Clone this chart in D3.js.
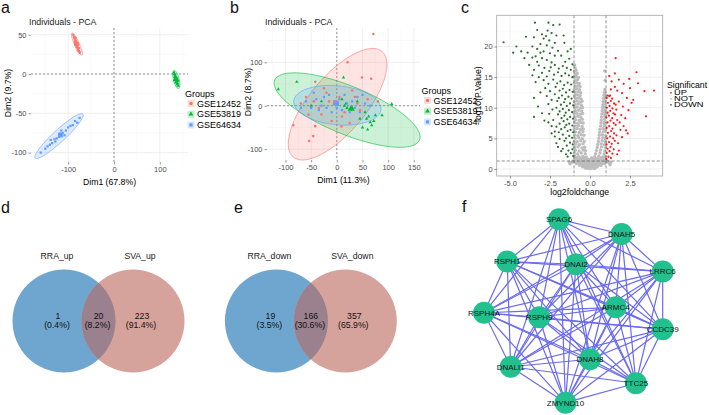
<!DOCTYPE html>
<html>
<head>
<meta charset="UTF-8" />
<script src="https://d3js.org/d3.v7.min.js"></script>
<title>Figure</title>
<style>
  body { margin: 0; background: #fff; }
  text { font-family: "Liberation Sans", Arial, sans-serif; }
</style>
</head>
<body>
<svg id="fig" width="709" height="415"></svg>
<script>
// ---------- data ----------
var groups = ["GSE12452", "GSE53819", "GSE64634"];

// panel a: PCA (Dim1 67.8%, Dim2 9.7%)
var pcaA_12452 = [[-89,50],[-87,47],[-86,45],[-84,43],[-85,41],[-82,40],[-83,37],[-80,36],[-81,34],[-78,32],[-79,30],[-76,29],[-75,27],[-84,46],[-80,38],[-77,33]];
var pcaA_53819 = [[131,2],[132,0],[133,-2],[134,-3],[135,-5],[136,-6],[134,-7],[137,-8],[138,-9],[136,-10],[139,-12],[138,-13],[140,-15],[133,-4],[137,-5],[135,-11]];
var pcaA_64634 = [[-160,-100],[-150,-95],[-145,-92],[-140,-90],[-135,-88],[-130,-83],[-125,-82],[-120,-80],[-118,-76],[-112,-75],[-108,-78],[-105,-72],[-100,-68],[-95,-66],[-90,-65],[-85,-60],[-80,-62],[-75,-56],[-128,-86],[-138,-84],[-115,-72]];
// ellipses: centre x, centre y, axis-1 vector, axis-2 vector (data units)
var pcaA_ellipses = [[-81,38,11,-14,-5,-1.3],[136,-7,5,-11.5,-6,-1],[-120,-79,52,28,8.9,-5.6]];

// panel b: PCA (Dim1 11.3%, Dim2 8.7%)
var pcaB_12452 = [[71,165],[21,100],[49,65],[67,62],[-42,55],[-85,-45],[-42,-47],[-46,-70],[-54,-81],[10,-25],[9,-48],[-20,30],[-60,20],[30,35],[45,-10],[-30,-20],[60,15],[-70,5],[-10,-35],[25,-40],[-45,10],[35,20],[-25,40],[5,20],[-55,-20],[80,10],[15,-15],[-35,-5],[40,5],[-15,10]];
var pcaB_53819 = [[-114,38],[-78,55],[13,65],[88,-22],[107,4],[55,-15],[58,-30],[62,-25],[68,-45],[72,-35],[50,-50],[60,-55],[75,-22],[65,-38],[45,-30],[15,0],[18,5],[20,-5],[10,15],[-5,5],[-30,10],[30,-5],[40,10],[-50,0]];
var pcaB_64634 = [[-60,10],[-50,-5],[-40,15],[-35,-10],[-25,20],[-20,-5],[-15,25],[-10,-15],[-5,10],[0,-5],[5,15],[10,-10],[15,25],[20,5],[25,-15],[30,10],[35,-5],[40,20],[45,-15],[55,5],[-70,-5],[-30,0],[50,25],[-45,30],[65,0]];
var pcaB_ellipses = [[1.5,3.5,86.5,121.5,41.7,-41.8],[20,-10,141,-69,-18,-51],[1,1,85,-8,0,45]];

// panel c: volcano, [log2FC, -log10 P]
var volcanoNot = [
  [-0.25,0.1],[-0.1,0.12],[0.05,0.08],[0.2,0.13],[0.3,0.1],
  [-0.45,0.35],[-0.3,0.38],[-0.15,0.32],[0,0.36],[0.15,0.33],[0.3,0.37],[0.45,0.34],
  [-0.65,0.6],[-0.5,0.63],[-0.35,0.58],[-0.2,0.62],[-0.05,0.6],[0.1,0.64],[0.25,0.59],[0.4,0.61],[0.55,0.63],[0.68,0.58],
  [-0.85,0.9],[-0.7,0.93],[-0.55,0.88],[-0.4,0.92],[-0.25,0.9],[-0.1,0.87],[0.05,0.92],[0.2,0.89],[0.35,0.93],[0.5,0.9],[0.65,0.88],[0.8,0.92],[0.92,0.9],
  [-1.1,1.2],[-0.95,1.18],[-0.8,1.22],[-0.65,1.2],[-0.5,1.17],[-0.35,1.23],[-0.2,1.2],[-0.05,1.18],[0.1,1.22],[0.25,1.19],[0.4,1.21],[0.55,1.18],[0.7,1.23],[0.85,1.2],[1.0,1.18],[1.12,1.22],
  [-1.25,0.85],[-1.15,1.05],[1.2,0.95],[1.3,1.1],[-1.3,1.15],[1.25,0.7],
  [-0.98,1.5],[-0.83,1.53],[-0.68,1.48],[-0.53,1.52],[-0.38,1.5],[-0.22,1.47],[-0.08,1.52],[0.08,1.5],[0.22,1.53],[0.38,1.48],[0.53,1.51],[0.68,1.5],[0.83,1.52],[0.98,1.49],
  [-0.95,1.8],[-0.78,1.83],[-0.6,1.78],[-0.42,1.82],[-0.2,1.8],[0.1,1.79],[0.3,1.82],[0.5,1.8],[0.7,1.83],[0.9,1.78],
  [-0.95,2.1],[-0.7,2.0],[-0.45,2.05],[-0.25,1.95],[-0.98,2.55],[-0.78,2.45],[-0.55,2.6],[-0.3,2.5],
  [-0.92,3.05],[-0.68,2.95],[-0.42,3.1],[-0.28,3.0],[-0.97,3.5],[-0.75,3.6],[-0.5,3.45],[-0.33,3.55],
  [-0.9,4.05],[-0.66,3.95],[-0.44,4.1],[-0.99,4.5],[-0.8,4.45],[-0.58,4.6],[-0.36,4.5],
  [-0.93,5.0],[-0.7,5.1],[-0.48,4.95],[-0.96,5.55],[-0.76,5.45],[-0.55,5.6],[-0.38,5.5],
  [-0.91,6.05],[-0.68,5.95],[-0.45,6.1],[-0.98,6.5],[-0.8,6.6],[-0.6,6.45],[-0.42,6.55],
  [-0.92,7.0],[-0.72,7.1],[-0.5,6.95],[-0.97,7.55],[-0.78,7.45],[-0.58,7.6],[-0.43,7.5],
  [-0.9,8.05],[-0.68,7.95],[-0.48,8.1],[-0.95,8.5],[-0.76,8.6],[-0.57,8.45],
  [-0.99,9.0],[-0.82,9.1],[-0.62,8.95],[-0.46,9.05],[-0.92,9.5],[-0.72,9.6],[-0.52,9.45],
  [-0.97,10.0],[-0.8,10.1],[-0.6,9.95],[-0.47,10.05],[-0.93,10.5],[-0.74,10.6],[-0.55,10.45],
  [-0.98,11.0],[-0.82,11.1],[-0.64,10.95],[-0.5,11.05],[-0.9,11.5],[-0.72,11.6],[-0.56,11.45],
  [-0.96,12.0],[-0.8,12.1],[-0.62,11.95],[-0.92,12.5],[-0.74,12.6],[-0.58,12.45],
  [-0.98,13.0],[-0.84,13.1],[-0.66,12.95],[-0.91,13.5],[-0.75,13.6],[-0.62,13.45],
  [-0.97,14.0],[-0.83,14.1],[-0.68,13.95],[-0.93,14.5],[-0.78,14.6],
  [-0.98,15.0],[-0.86,15.1],[-0.72,14.95],[-0.94,15.5],[-0.8,15.6],[-0.97,16.0],[-0.87,16.1],[-0.93,16.5],[-0.96,17.0],
  [0.3,2.0],[0.55,2.1],[0.8,1.95],[0.97,2.05],[0.35,2.5],[0.62,2.6],[0.88,2.45],
  [0.4,3.0],[0.65,3.1],[0.92,2.95],[0.45,3.5],[0.72,3.6],[0.98,3.45],
  [0.48,4.0],[0.7,4.1],[0.9,3.95],[0.52,4.5],[0.76,4.6],[0.96,4.45],
  [0.55,5.0],[0.8,5.1],[0.95,4.95],[0.58,5.5],[0.78,5.6],[0.99,5.45],
  [0.6,6.0],[0.84,6.1],[0.62,6.5],[0.82,6.6],[0.97,6.45],
  [0.66,7.0],[0.88,7.1],[0.68,7.5],[0.86,7.6],[0.99,7.45],
  [0.7,8.0],[0.9,8.1],[0.72,8.5],[0.93,8.6],
  [0.74,9.0],[0.88,9.1],[0.99,8.95],[0.76,9.5],[0.94,9.6],
  [0.78,10.0],[0.92,10.1],[0.8,10.5],[0.96,10.6],
  [0.82,11.0],[0.94,11.1],[0.85,11.5],[0.98,11.6],
  [0.87,12.0],[0.96,12.1],[0.9,12.5],[0.93,13.0],[0.95,14.5],[0.92,16.0]
];
var volcanoDown = [
  [-1.05,2.1],[-1.2,2.6],[-1.1,3.2],[-1.35,3.0],[-1.5,2.4],[-1.08,4.0],[-1.25,4.3],[-1.45,3.8],[-1.6,4.6],[-1.12,5.1],
  [-1.3,5.4],[-1.5,5.0],[-1.7,5.6],[-1.05,6.0],[-1.22,6.4],[-1.4,6.2],[-1.58,6.8],[-1.8,6.5],[-1.1,7.1],[-1.3,7.4],
  [-1.48,7.2],[-1.65,7.8],[-1.9,7.4],[-1.06,8.2],[-1.24,8.5],[-1.42,8.1],[-1.6,8.7],[-1.78,8.3],[-2.0,8.9],[-1.12,9.3],
  [-1.32,9.6],[-1.52,9.2],[-1.7,9.8],[-1.9,9.4],[-2.1,10.0],[-1.05,10.4],[-1.25,10.7],[-1.45,10.3],[-1.62,10.9],[-1.82,10.5],
  [-2.05,11.1],[-1.15,11.5],[-1.35,11.8],[-1.55,11.4],[-1.75,12.0],[-1.95,11.6],[-2.2,12.2],[-1.08,12.6],[-1.28,12.9],[-1.5,12.5],
  [-1.7,13.1],[-1.9,12.8],[-2.15,13.4],[-1.18,13.8],[-1.4,14.1],[-1.62,13.7],[-1.85,14.3],[-2.05,14.0],[-2.3,14.6],[-1.1,15.0],
  [-1.32,15.3],[-1.55,15.6],[-1.78,15.2],[-2.0,15.8],[-2.25,15.4],[-1.2,16.2],[-1.45,16.5],[-1.7,16.8],[-1.95,16.4],[-2.2,17.0],
  [-2.45,16.6],[-1.1,17.1],
  [-2.2,6.1],[-2.4,7.0],[-2.3,8.0],[-2.55,9.0],[-2.35,9.7],[-2.6,10.6],[-2.4,11.3],[-2.7,11.9],[-2.5,12.7],[-2.8,13.2],
  [-2.6,13.9],[-2.9,14.5],[-2.7,15.1],[-3.0,15.7],[-2.55,16.0],[-2.85,16.5],[-3.2,16.9],[-2.4,17.4],[-2.7,17.8],[-3.0,18.1],
  [-3.4,18.4],[-2.2,18.5],[-2.5,18.9],[-2.9,19.2],[-3.3,19.6],[-2.0,19.3],[-2.35,19.8],[-2.7,20.2],[-3.1,20.4],[-3.6,20.0],
  [-2.2,20.6],[-2.55,21.0],[-2.9,21.3],[-3.5,21.5],[-2.4,22.2],[-3.0,22.0],[-4.0,21.6],[-2.3,23.5],[-1.9,23.6],[-2.6,23.9],
  [-3.44,23.9],[-2.75,21.7],
  [-1.8,2.9],[-2.0,3.6],[-1.9,4.9],[-2.2,5.3],[-2.1,4.2],[-1.4,2.0],[-1.7,3.3],[-2.4,5.8],[-2.6,7.6],[-2.1,6.9],[-1.95,6.0],
  [-3.3,17.5],[-3.6,18.2],[-3.9,19.0],[-4.3,19.2],[-4.6,20.0],[-4.8,19.0],[-5.4,20.7],[-3.8,17.0],[-3.5,16.2],[-3.2,15.0],
  [-3.4,14.2],[-3.5,11.6],[-3.5,8.5],[-3.1,12.5],[-3.25,10.2],[-3.0,9.1],[-2.85,7.9],[-3.6,15.3],[-4.1,18.1],[-3.1,19.0],
  [-3.3,22.7],[-2.1,21.8],[-1.6,20.6],[-1.4,19.2],[-1.8,18.5],[-1.3,18.0],[-1.55,17.5],[-2.65,22.6],[-1.2,19.6],[-1.65,21.8]
];
var volcanoUp = [
  [1.02,1.6],[1.15,2.0],[1.3,1.8],[1.05,2.6],[1.22,2.9],[1.4,2.5],[1.1,3.3],[1.28,3.6],[1.48,3.2],[1.03,4.0],
  [1.18,4.4],[1.36,4.1],[1.55,4.6],[1.08,5.0],[1.25,5.3],[1.45,5.0],[1.65,5.5],[1.12,5.9],[1.32,6.2],[1.5,5.8],
  [1.04,6.7],[1.2,7.0],[1.4,6.6],[1.6,7.2],[1.1,7.6],[1.28,7.9],[1.48,7.5],[1.7,8.0],[1.02,8.4],[1.18,8.7],
  [1.38,8.3],[1.56,8.9],[1.1,9.2],[1.26,9.5],[1.46,9.1],[1.64,9.7],[1.05,10.0],[1.22,10.3],[1.4,9.9],[1.6,10.5],
  [1.12,10.8],[1.3,11.1],[1.5,10.7],[1.04,11.6],[1.2,11.9],[1.38,11.5],[1.1,12.0],[1.25,12.0],
  [1.8,3.0],[1.75,4.2],[2.0,5.2],[1.9,6.4],[2.1,7.0],[1.85,7.6],[2.2,8.3],[1.95,8.8],[2.4,9.6],[2.05,10.2],
  [1.8,11.0],[2.3,11.6],[2.0,12.4],[1.7,12.8],[2.5,13.2],[1.55,13.4],[2.1,13.9],[1.35,14.3],[1.8,14.6],[1.2,15.2],
  [1.55,15.6],[1.3,13.0],[2.6,10.8],[2.25,6.3],[1.7,2.4],[2.35,5.8],
  [1.6,18.1],[2.9,15.8],[3.0,14.0],[3.4,12.7],[4.0,12.8],[3.5,8.6],[2.7,11.3],[2.45,14.7]
];
var volcanoLevels = ["UP", "NOT", "DOWN"];

// panels d, e: Venn diagrams
var vennUpSets = ["RRA_up", "SVA_up"];
var vennUpCounts = [1, 20, 223];
var vennUpPct = ["0.4%", "8.2%", "91.4%"];
var vennDownSets = ["RRA_down", "SVA_down"];
var vennDownCounts = [19, 166, 357];
var vennDownPct = ["3.5%", "30.6%", "65.9%"];

// panel f: PPI network (layout coordinates 0..1)
var geneNames = ["SPAG6","DNAH5","RSPH1","DNAI2","LRRC6","ARMC4","RSPH4A","RSPH9","CCDC39","DNAH8","DNALI1","TTC25","ZMYND10"];
var geneLayoutX = [0.42, 0.77, 0.13, 0.515, 1.0, 0.737, 0.0, 0.309, 1.0, 0.593, 0.149, 0.85, 0.456];
var geneLayoutY = [0.0, 0.08, 0.23, 0.245, 0.285, 0.48, 0.51, 0.534, 0.6, 0.763, 0.804, 0.894, 1.0];
var geneLinks = [
  ["SPAG6", ["DNAH5","RSPH1","DNAI2","LRRC6","ARMC4","RSPH4A","RSPH9","CCDC39","DNAH8","DNALI1","TTC25","ZMYND10"]],
  ["DNAH5", ["RSPH1","DNAI2","LRRC6","ARMC4","RSPH4A","RSPH9","CCDC39","DNAH8","DNALI1","TTC25","ZMYND10"]],
  ["RSPH1", ["DNAI2","LRRC6","ARMC4","RSPH4A","RSPH9","CCDC39","DNAH8","DNALI1","TTC25","ZMYND10"]],
  ["DNAI2", ["LRRC6","ARMC4","RSPH4A","RSPH9","CCDC39","DNAH8","DNALI1","TTC25","ZMYND10"]],
  ["LRRC6", ["ARMC4","RSPH4A","RSPH9","CCDC39","DNAH8","DNALI1","TTC25","ZMYND10"]],
  ["ARMC4", ["RSPH4A","RSPH9","CCDC39","DNAH8","DNALI1","TTC25","ZMYND10"]],
  ["RSPH4A", ["RSPH9","CCDC39","DNAH8","DNALI1","TTC25","ZMYND10"]],
  ["RSPH9", ["CCDC39","DNAH8","DNALI1","TTC25","ZMYND10"]],
  ["CCDC39", ["DNAH8","DNALI1","TTC25","ZMYND10"]],
  ["DNAH8", ["DNALI1","TTC25","ZMYND10"]],
  ["DNALI1", ["TTC25","ZMYND10"]],
  ["TTC25", ["ZMYND10"]]
];

// ---------- drawing ----------
var svg = d3.select("#fig");
svg.append("rect").attr("width", 709).attr("height", 415).attr("fill", "#fff");

var groupColors = ["#F8766D", "#00BA38", "#619CFF"];
var groupShapes = [d3.symbolCircle, d3.symbolTriangle, d3.symbolSquare];
var tickGrey = "#4d4d4d";

function styleAxis(ax, size) {
  ax.select(".domain").remove();
  ax.selectAll(".tick line").attr("stroke", "#333").attr("stroke-width", 0.5);
  ax.selectAll(".tick text").attr("fill", tickGrey).attr("font-size", size)
    .attr("font-family", "Liberation Sans, Arial, sans-serif");
}

function gridLines(g, x, y, xs, ys, box, color, w) {
  g.selectAll(null).data(xs).enter().append("line")
    .attr("x1", x).attr("x2", x).attr("y1", box.top).attr("y2", box.bottom)
    .attr("stroke", color).attr("stroke-width", w);
  g.selectAll(null).data(ys).enter().append("line")
    .attr("y1", y).attr("y2", y).attr("x1", box.left).attr("x2", box.right)
    .attr("stroke", color).attr("stroke-width", w);
}

function pcaPanel(p) {
  var g = svg.append("g");
  var x = d3.scaleLinear().domain(p.xDom).range([p.left, p.right]);
  var y = d3.scaleLinear().domain(p.yDom).range([p.bottom, p.top]);

  gridLines(g, x, y, p.xMinor, p.yMinor, p, "#f4f4f4", 0.5);
  gridLines(g, x, y, p.xTicks, p.yTicks, p, "#e8e8e8", 0.7);

  // zero lines
  g.append("line").attr("x1", x(0)).attr("x2", x(0)).attr("y1", p.top).attr("y2", p.bottom)
    .attr("stroke", "#555").attr("stroke-width", 0.6).attr("stroke-dasharray", "2,2");
  g.append("line").attr("y1", y(0)).attr("y2", y(0)).attr("x1", p.left).attr("x2", p.right)
    .attr("stroke", "#555").attr("stroke-width", 0.6).attr("stroke-dasharray", "2,2");

  // confidence ellipses
  var ts = d3.range(0, 2 * Math.PI, Math.PI / 60);
  p.ellipses.forEach(function (e, i) {
    var line = d3.line().curve(d3.curveLinearClosed)
      .x(function (t) { return x(e[0] + e[2] * Math.cos(t) + e[4] * Math.sin(t)); })
      .y(function (t) { return y(e[1] + e[3] * Math.cos(t) + e[5] * Math.sin(t)); });
    g.append("path").attr("d", line(ts))
      .attr("fill", groupColors[i]).attr("fill-opacity", 0.2)
      .attr("stroke", groupColors[i]).attr("stroke-width", 0.6);
  });

  // individuals
  p.points.forEach(function (pts, i) {
    g.selectAll(null).data(pts).enter().append("path")
      .attr("d", d3.symbol().type(groupShapes[i]).size(p.ptSize))
      .attr("transform", function (d) { return "translate(" + x(d[0]) + "," + y(d[1]) + ")"; })
      .attr("fill", groupColors[i]);
  });
  // group means
  p.points.forEach(function (pts, i) {
    var mx = d3.mean(pts, function (d) { return d[0]; });
    var my = d3.mean(pts, function (d) { return d[1]; });
    g.append("path").attr("d", d3.symbol().type(groupShapes[i]).size(22)())
      .attr("transform", "translate(" + x(mx) + "," + y(my) + ")")
      .attr("fill", groupColors[i]);
  });

  var fmt = function (d) { return String(d); };
  var ax = g.append("g").attr("transform", "translate(0," + p.bottom + ")")
    .call(d3.axisBottom(x).tickValues(p.xTicks).tickSize(2.5).tickPadding(2).tickFormat(fmt));
  styleAxis(ax, 7.5);
  var ay = g.append("g").attr("transform", "translate(" + p.left + ",0)")
    .call(d3.axisLeft(y).tickValues(p.yTicks).tickSize(2.5).tickPadding(2).tickFormat(fmt));
  styleAxis(ay, 7.5);

  g.append("text").attr("x", p.left - 2).attr("y", p.top - 3).attr("font-size", 8.8)
    .attr("fill", "#222").text("Individuals - PCA");
  g.append("text").attr("x", (p.left + p.right) / 2).attr("y", p.bottom + 23)
    .attr("text-anchor", "middle").attr("font-size", 8.7).text(p.xLabel);
  g.append("text").attr("transform", "translate(" + p.yLabelX + "," + ((p.top + p.bottom) / 2 - 2) + ") rotate(-90)")
    .attr("text-anchor", "middle").attr("font-size", 8.7).text(p.yLabel);

  // legend
  var lg = g.append("g").attr("transform", "translate(" + p.legX + "," + p.legY + ")");
  lg.append("text").attr("x", -3).attr("y", 3).attr("font-size", 9).text("Groups");
  groups.forEach(function (name, i) {
    var cy = 10 + i * p.legStep;
    lg.append("rect").attr("x", -0.5).attr("y", cy - 3.5).attr("width", 7).attr("height", 7)
      .attr("fill", groupColors[i]).attr("fill-opacity", 0.25);
    lg.append("path").attr("d", d3.symbol().type(groupShapes[i]).size(10)())
      .attr("transform", "translate(3," + cy + ")").attr("fill", groupColors[i]);
    lg.append("text").attr("x", 9).attr("y", cy + 3.2).attr("font-size", 9).text(name);
  });
}

pcaPanel({
  left: 31, right: 188, top: 28, bottom: 162,
  xDom: [-181.2, 161.6], yDom: [-112, 58.5],
  xTicks: [-100, 0, 100], yTicks: [-100, -50, 0, 50],
  xMinor: [-150, -50, 50, 150], yMinor: [-75, -25, 25],
  ellipses: pcaA_ellipses, points: [pcaA_12452, pcaA_53819, pcaA_64634], ptSize: 5,
  xLabel: "Dim1 (67.8%)", yLabel: "Dim2 (9.7%)", yLabelX: 11,
  legX: 188, legY: 93.5, legStep: 10.7
});

pcaPanel({
  left: 267, right: 420, top: 28, bottom: 160,
  xDom: [-136, 162], yDom: [-125, 179],
  xTicks: [-100, -50, 0, 50, 100, 150], yTicks: [-100, 0, 100],
  xMinor: [-125, -75, -25, 25, 75, 125], yMinor: [-50, 50, 150],
  ellipses: pcaB_ellipses, points: [pcaB_12452, pcaB_53819, pcaB_64634], ptSize: 5,
  xLabel: "Dim1 (11.3%)", yLabel: "Dim2 (8.7%)", yLabelX: 251,
  legX: 424.5, legY: 90.5, legStep: 10.7
});

// ---------- volcano ----------
(function () {
  var box = { left: 496.7, right: 662.7, top: 15.3, bottom: 176 };
  var g = svg.append("g");
  var x = d3.scaleLinear().domain([-5.83, 4.54]).range([box.left, box.right]);
  var y = d3.scaleLinear().domain([-1.15, 25.1]).range([box.bottom, box.top]);
  gridLines(g, x, y, [-3.75, -1.25, 1.25, 3.75], [2.5, 7.5, 12.5, 17.5, 22.5], box, "#f4f4f4", 0.5);
  gridLines(g, x, y, [-5, -2.5, 0, 2.5], [0, 5, 10, 15, 20], box, "#e6e6e6", 0.7);

  var colors = { UP: "#ff1a1a", NOT: "#bdbdbd", DOWN: "#2b6b2b" };
  g.selectAll(null).data(volcanoNot).enter().append("circle")
    .attr("cx", function (d) { return x(d[0]); }).attr("cy", function (d) { return y(d[1]); })
    .attr("r", 1.7).attr("fill", colors.NOT);
  g.selectAll(null).data(volcanoDown).enter().append("circle")
    .attr("cx", function (d) { return x(d[0]); }).attr("cy", function (d) { return y(d[1]); })
    .attr("r", 1.1).attr("fill", colors.DOWN);
  g.selectAll(null).data(volcanoUp).enter().append("circle")
    .attr("cx", function (d) { return x(d[0]); }).attr("cy", function (d) { return y(d[1]); })
    .attr("r", 1.1).attr("fill", colors.UP);

  [-1, 1].forEach(function (v) {
    g.append("line").attr("x1", x(v)).attr("x2", x(v)).attr("y1", box.top).attr("y2", box.bottom)
      .attr("stroke", "#444").attr("stroke-width", 0.6).attr("stroke-dasharray", "3,2");
  });
  g.append("line").attr("x1", box.left).attr("x2", box.right).attr("y1", y(-Math.log10(0.05))).attr("y2", y(-Math.log10(0.05)))
    .attr("stroke", "#444").attr("stroke-width", 0.6).attr("stroke-dasharray", "3,2");

  g.append("rect").attr("x", box.left).attr("y", box.top)
    .attr("width", box.right - box.left).attr("height", box.bottom - box.top)
    .attr("fill", "none").attr("stroke", "#a6a6a6").attr("stroke-width", 0.8);

  var ax = g.append("g").attr("transform", "translate(0," + box.bottom + ")")
    .call(d3.axisBottom(x).tickValues([-5, -2.5, 0, 2.5]).tickSize(2.5).tickPadding(2)
      .tickFormat(function (d) { return d.toFixed(1); }));
  styleAxis(ax, 7.5);
  var ay = g.append("g").attr("transform", "translate(" + box.left + ",0)")
    .call(d3.axisLeft(y).tickValues([0, 5, 10, 15, 20]).tickSize(2.5).tickPadding(1.5)
      .tickFormat(function (d) { return String(d); }));
  styleAxis(ay, 7.5);

  g.append("text").attr("x", (box.left + box.right) / 2).attr("y", box.bottom + 18.5)
    .attr("text-anchor", "middle").attr("font-size", 8.7).text("log2foldchange");
  g.append("text").attr("transform", "translate(480.5," + ((box.top + box.bottom) / 2) + ") rotate(-90)")
    .attr("text-anchor", "middle").attr("font-size", 8.7).text("-log10(P.Value)");

  // legend: keys are packed tightly, text squashed vertically as in the source figure
  var lg = g.append("g").attr("transform", "translate(667,88)");
  lg.append("text").attr("x", 0).attr("y", 0).attr("font-size", 8.7).text("Significant");
  volcanoLevels.forEach(function (lv, i) {
    var cy = 4.8 + i * 6;
    lg.append("circle").attr("cx", 4).attr("cy", cy).attr("r", 0.9).attr("fill", colors[lv]);
    lg.append("text").attr("transform", "translate(7," + (cy + 2.6) + ") scale(1,0.68)")
      .attr("font-size", 9.3).text(lv);
  });
})();

// ---------- venn diagrams ----------
function venn(cx1, cx2, cy, r, sets, counts, pcts, id) {
  var g = svg.append("g");
  var defs = g.append("defs");
  defs.append("clipPath").attr("id", id).append("circle").attr("cx", cx1).attr("cy", cy).attr("r", r);
  g.append("circle").attr("cx", cx1).attr("cy", cy).attr("r", r).attr("fill", "#6fa6cf");
  g.append("circle").attr("cx", cx2).attr("cy", cy).attr("r", r).attr("fill", "#d6a29c");
  g.append("circle").attr("cx", cx2).attr("cy", cy).attr("r", r).attr("fill", "#9b808d")
    .attr("clip-path", "url(#" + id + ")");
  g.append("text").attr("x", cx1 - 7).attr("y", 258.7).attr("text-anchor", "middle").attr("font-size", 8.7).attr("fill", "#222").text(sets[0]);
  g.append("text").attr("x", cx2 + 7).attr("y", 258.7).attr("text-anchor", "middle").attr("font-size", 8.7).attr("fill", "#222").text(sets[1]);
  var lx = [cx1 - 6, (cx1 + cx2) / 2, cx2 + 9];
  counts.forEach(function (c, i) {
    g.append("text").attr("x", lx[i]).attr("y", 319).attr("text-anchor", "middle").attr("font-size", 8.7).attr("fill", "#111").text(c);
    g.append("text").attr("x", lx[i] - 1).attr("y", 328).attr("text-anchor", "middle").attr("font-size", 8.7).attr("fill", "#111").text("(" + pcts[i] + ")");
  });
}
venn(64, 133, 321, 51.5, vennUpSets, vennUpCounts, vennUpPct, "clipUp");
venn(276.4, 345.3, 321, 51.5, vennDownSets, vennDownCounts, vennDownPct, "clipDown");

// ---------- network ----------
(function () {
  var g = svg.append("g");
  var x = d3.scaleLinear().domain([0, 1]).range([484, 662.7]);
  var y = d3.scaleLinear().domain([0, 1]).range([219.3, 402.7]);
  var idx = {};
  geneNames.forEach(function (n, i) { idx[n] = i; });
  var edges = [];
  geneLinks.forEach(function (l) { l[1].forEach(function (t) { edges.push([idx[l[0]], idx[t]]); }); });
  g.selectAll(null).data(edges).enter().append("line")
    .attr("x1", function (d) { return x(geneLayoutX[d[0]]); })
    .attr("y1", function (d) { return y(geneLayoutY[d[0]]); })
    .attr("x2", function (d) { return x(geneLayoutX[d[1]]); })
    .attr("y2", function (d) { return y(geneLayoutY[d[1]]); })
    .attr("stroke", "#6a6aee").attr("stroke-width", 1.2);
  var nodes = g.selectAll(null).data(geneNames).enter().append("g")
    .attr("transform", function (d, i) { return "translate(" + x(geneLayoutX[i]) + "," + y(geneLayoutY[i]) + ")"; });
  nodes.append("circle").attr("r", 11).attr("fill", "#22c08e");
  nodes.append("text").attr("text-anchor", "middle").attr("y", 2.8).attr("font-size", 8).attr("fill", "#111").text(function (d) { return d; });
})();

// ---------- panel letters ----------
var letters = [["a", 1, 12.5], ["b", 230, 12.5], ["c", 461, 12.5], ["d", 1, 213], ["e", 234, 213], ["f", 462, 212]];
svg.selectAll(null).data(letters).enter().append("text")
  .attr("x", function (d) { return d[1]; }).attr("y", function (d) { return d[2]; })
  .attr("font-size", 16).attr("fill", "#111").text(function (d) { return d[0]; });
</script>
</body>
</html>
